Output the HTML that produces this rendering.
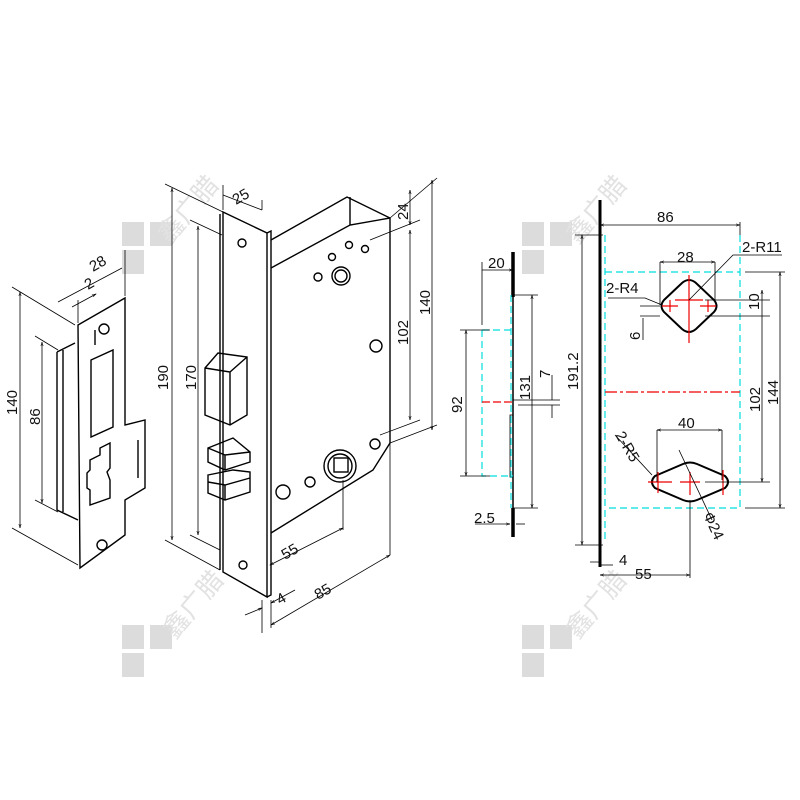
<!DOCTYPE html>
<html><head><style>body{margin:0;background:#fff}svg{display:block}text{font-family:"Liberation Sans",sans-serif;font-size:15px;fill:#111}</style></head>
<body>
<svg width="800" height="800" viewBox="0 0 800 800" xmlns="http://www.w3.org/2000/svg">
<defs>
<marker id="a" viewBox="0 0 10 10" refX="10" refY="5" markerWidth="7" markerHeight="5" orient="auto-start-reverse"><path d="M0,2 L10,5 L0,8" fill="none" stroke="#000" stroke-width="1.2"/></marker>
</defs>
<g fill="#dcdcdc">
<rect x="122" y="222" width="22" height="24"/><rect x="150" y="222" width="22" height="24"/><rect x="122" y="250" width="22" height="24"/>
<rect x="122" y="625" width="22" height="24"/><rect x="150" y="625" width="22" height="24"/><rect x="122" y="653" width="22" height="24"/>
<rect x="522" y="222" width="22" height="24"/><rect x="550" y="222" width="22" height="24"/><rect x="522" y="250" width="22" height="24"/>
<rect x="522" y="625" width="22" height="24"/><rect x="550" y="625" width="22" height="24"/><rect x="522" y="653" width="22" height="24"/>
</g>
<g>
<text x="170" y="245" transform="rotate(-50 170 245)" style="fill:#e2e2e2;font-size:26px;font-family:'Noto Sans CJK SC',sans-serif">鑫广腊</text>
<text x="175" y="640" transform="rotate(-50 175 640)" style="fill:#e2e2e2;font-size:26px;font-family:'Noto Sans CJK SC',sans-serif">鑫广腊</text>
<text x="578" y="245" transform="rotate(-50 578 245)" style="fill:#e2e2e2;font-size:26px;font-family:'Noto Sans CJK SC',sans-serif">鑫广腊</text>
<text x="578" y="640" transform="rotate(-50 578 640)" style="fill:#e2e2e2;font-size:26px;font-family:'Noto Sans CJK SC',sans-serif">鑫广腊</text>
</g>

<g fill="none" stroke="#000" stroke-width="1.4">
<path d="M78,325 L125,298 L125,425 L145,420 L145,488 L125,500 L125,535 L80,568 Z"/>
<path d="M57,352 L75,343 M57,352 L57,510 L78,520 M63,350 L63,512"/>
<path d="M95,330 L95,345"/>
<path d="M91,360 L113,350 L113,427 L91,437 Z"/>
<path d="M90,460 L100,455 L100,448 L110,443 L110,468 L107,472 L110,480 L110,498 L90,505 L90,490 L87,488 L87,473 L90,470 Z"/>
<path d="M138,440 L138,478"/>
<circle cx="104" cy="329" r="5"/><circle cx="102" cy="545" r="5"/>
</g>
<g stroke="#000" stroke-width="0.8" fill="none">
<path d="M12,287 L75,325 M12,528 L78,565 M35,336 L58,350 M35,500 L58,512"/>
<path d="M20,292 L20,528" marker-start="url(#a)" marker-end="url(#a)"/>
<path d="M42,342 L42,503" marker-start="url(#a)" marker-end="url(#a)"/>
<path d="M78,323 L78,300 M125,296 L125,250 M58,302 L122,268" />
<path d="M72,307 L96,294" marker-end="url(#a)"/>
</g>
<text x="17" y="415" transform="rotate(-90 17 415)">140</text>
<text x="40" y="425" transform="rotate(-90 40 425)">86</text>
<text x="93" y="272" transform="rotate(-30 93 272)">28</text>
<text x="88" y="290" transform="rotate(-30 88 290)">2</text>

<g fill="none" stroke="#000" stroke-width="1.4">
<path d="M223,212 L267,233 L267,597 L223,572 Z"/>
<path d="M267,233 L271,231 L271,595 L267,597"/>
<path d="M220,214 L220,570"/>
<path d="M271,240 L347,197 L390,218 L390,443 L373,470 L271,533"/>
<path d="M271,268 L350,225 L390,218 M350,225 L350,197"/>
<circle cx="242" cy="243" r="4"/><circle cx="243" cy="565" r="4"/>
<path d="M205,368 L218,353 L247,357 L247,415 L230,425 L205,415 Z M205,368 L230,372 L230,425 M230,372 L247,357"/>
<path d="M208,448 L233,438 L250,452 L250,462 L225,470 L208,462 Z M208,448 L225,455 L250,452 M225,455 L225,470"/>
<path d="M208,475 L233,470 L250,472 L250,492 L225,500 L208,493 Z M208,482 L225,485 L250,478 M225,485 L225,500"/>
<circle cx="341" cy="276" r="9"/><circle cx="341" cy="276" r="6"/>
<circle cx="318" cy="277" r="4"/><circle cx="332" cy="257" r="3.5"/><circle cx="349" cy="245" r="3.5"/><circle cx="365" cy="249" r="3.5"/>
<circle cx="376" cy="346" r="6"/>
<circle cx="340" cy="466" r="16"/><circle cx="340" cy="466" r="12"/><rect x="334" y="458" width="14" height="14"/>
<circle cx="375" cy="444" r="5"/><circle cx="310" cy="482" r="5"/><circle cx="283" cy="492" r="7"/>
</g>
<g stroke="#000" stroke-width="0.8" fill="none">
<path d="M165,184 L223,212 M165,540 L220,570 M190,220 L222,235 M190,535 L220,550"/>
<path d="M172,188 L172,540" marker-start="url(#a)" marker-end="url(#a)"/>
<path d="M198,226 L198,535" marker-start="url(#a)" marker-end="url(#a)"/>
<path d="M223,210 L223,185 M262,210 L262,200 M223,195 L262,210" />
<path d="M390,218 L437,178 M370,240 L420,220 M390,443 L437,425 M380,435 L420,420"/>
<path d="M432,180 L432,430" marker-start="url(#a)" marker-end="url(#a)"/>
<path d="M410,190 L410,225" marker-start="url(#a)" marker-end="url(#a)"/>
<path d="M410,230 L410,420" marker-start="url(#a)" marker-end="url(#a)"/>
<path d="M343,480 L343,530 M390,443 L390,555 M262,600 L262,633 M271,600 L271,628"/>
<path d="M270,565 L343,528" marker-start="url(#a)" marker-end="url(#a)"/>
<path d="M271,625 L390,555" marker-start="url(#a)" marker-end="url(#a)"/>
<path d="M245,615 L262,608" marker-end="url(#a)"/><path d="M295,590 L271,603" marker-end="url(#a)"/>
</g>
<text x="168" y="390" transform="rotate(-90 168 390)">190</text>
<text x="196" y="390" transform="rotate(-90 196 390)">170</text>
<text x="236" y="205" transform="rotate(-30 236 205)">25</text>
<text x="408" y="220" transform="rotate(-90 408 220)">24</text>
<text x="408" y="345" transform="rotate(-90 408 345)">102</text>
<text x="430" y="315" transform="rotate(-90 430 315)">140</text>
<text x="285" y="560" transform="rotate(-30 285 560)">55</text>
<text x="318" y="600" transform="rotate(-30 318 600)">85</text>
<text x="280" y="605" transform="rotate(-30 280 605)">4</text>

<g fill="none">
<path d="M513,252 L513,297 M513,508 L513,537" stroke="#000" stroke-width="3.5"/>
<path d="M513,297 L513,508" stroke="#000" stroke-width="1.5"/>
<rect x="510" y="415" width="3" height="62" stroke="#000" stroke-width="0.8"/>
<path d="M482,330 L513,330 M482,330 L482,476 L513,476 M511,295 L511,508" stroke="#00dede" stroke-width="1.2" stroke-dasharray="7,4"/>
<path d="M482,402 L513,402" stroke="#e00" stroke-width="1.2" stroke-dasharray="8,3"/>
</g>
<g stroke="#000" stroke-width="0.8" fill="none">
<path d="M482,325 L482,262 M482,270 L513,270" marker-end="url(#a)"/>
<path d="M460,330 L490,330 M460,476 L490,476 M513,295 L538,295 M513,508 L538,508"/>
<path d="M466,330 L466,476" marker-start="url(#a)" marker-end="url(#a)"/>
<path d="M532,295 L532,508" marker-start="url(#a)" marker-end="url(#a)"/>
<path d="M513,400 L560,400 M518,405 L560,405 M552,375 L552,400 M552,405 L552,418"/>
<path d="M475,524 L510,524" marker-end="url(#a)"/><path d="M525,524 L516,524"/>
</g>
<text x="488" y="268">20</text>
<text x="462" y="413" transform="rotate(-90 462 413)">92</text>
<text x="530" y="400" transform="rotate(-90 530 400)">131</text>
<text x="550" y="378" transform="rotate(-90 550 378)">7</text>
<text x="474" y="523">2.5</text>

<g fill="none">
<path d="M600,200 L600,567" stroke="#000" stroke-width="3"/>
<path d="M605,235 L605,540 M605,272 L740,272 L740,508 L605,508 M740,235 L740,272" stroke="#00dede" stroke-width="1.2" stroke-dasharray="7,4"/>
<path d="M605,392 L740,392" stroke="#e00" stroke-width="1.2" stroke-dasharray="12,3,3,3"/>
<path d="M664,300 L682,283 Q689,277 696,283 L714,300 Q719,306 714,312 L696,329 Q689,335 682,329 L664,312 Q659,306 664,300 Z" stroke="#000" stroke-width="2"/>
<path d="M655,476 L683,464 Q690,461 697,464 L725,476 Q731,482 725,488 L697,500 Q690,503 683,500 L655,488 Q649,482 655,476 Z" stroke="#000" stroke-width="2"/>
<path d="M689,275 L689,343 M675,300 L703,300 M662,306 L678,306 M670,300 L670,312 M700,306 L716,306 M708,300 L708,312" stroke="#e00" stroke-width="1.2"/>
<path d="M648,482 L672,482 M658,472 L658,493 M680,482 L700,482 M690,472 L690,495 M723,470 L723,495" stroke="#e00" stroke-width="1.2"/>
</g>
<g stroke="#000" stroke-width="0.8" fill="none">
<path d="M600,225 L740,225" marker-start="url(#a)" marker-end="url(#a)"/>
<path d="M740,222 L740,235 M575,235 L603,235 M575,545 L603,545"/>
<path d="M582,235 L582,545" marker-start="url(#a)" marker-end="url(#a)"/>
<path d="M745,272 L785,272 M745,508 L785,508 M705,300 L770,300 M705,316 L770,316 M705,482 L770,482"/>
<path d="M780,272 L780,508" marker-start="url(#a)" marker-end="url(#a)"/>
<path d="M762,290 L762,482" marker-start="url(#a)" marker-end="url(#a)"/>
<path d="M660,262 L715,262" marker-start="url(#a)" marker-end="url(#a)"/>
<path d="M660,262 L660,305 M715,262 L715,300"/>
<path d="M689,300 L733,255 L782,255"/>
<path d="M608,298 L645,298 L662,305"/>
<path d="M643,318 L643,340 M640,306 L660,306 M640,316 L660,316"/>
<path d="M657,430 L722,430" marker-start="url(#a)" marker-end="url(#a)"/>
<path d="M657,430 L657,482 M722,430 L722,480"/>
<path d="M615,435 L652,475"/>
<path d="M679,450 L712,520"/>
<path d="M600,565 L613,565"/>
<path d="M600,575 L690,575" marker-start="url(#a)" marker-end="url(#a)"/>
<path d="M690,500 L690,578 M590,562 L600,562"/>
</g>
<text x="657" y="222">86</text>
<text x="742" y="252">2-R11</text>
<text x="677" y="262">28</text>
<text x="606" y="293">2-R4</text>
<text x="759" y="310" transform="rotate(-90 759 310)">10</text>
<text x="640" y="340" transform="rotate(-90 640 340)">6</text>
<text x="578" y="390" transform="rotate(-90 578 390)">191.2</text>
<text x="760" y="412" transform="rotate(-90 760 412)">102</text>
<text x="778" y="405" transform="rotate(-90 778 405)">144</text>
<text x="678" y="428">40</text>
<text x="615" y="435" transform="rotate(60 615 435)">2-R5</text>
<text x="703" y="515" transform="rotate(65 703 515)">Φ24</text>
<text x="619" y="565">4</text>
<text x="635" y="579">55</text>
</svg>
</body></html>
